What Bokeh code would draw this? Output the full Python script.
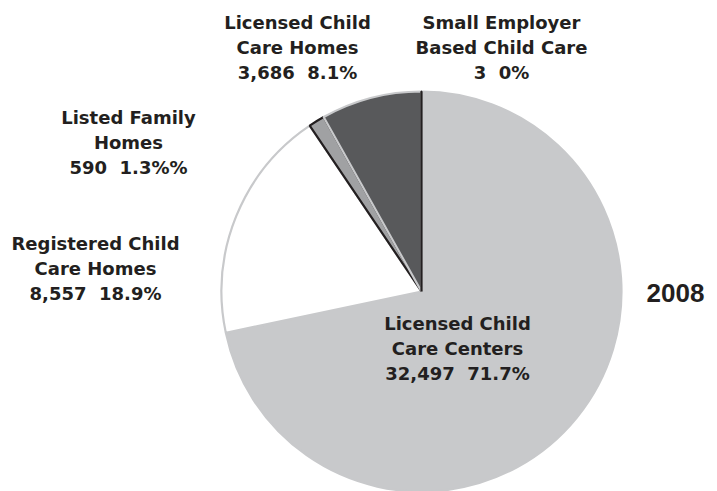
import numpy as np
from bokeh.plotting import figure
from bokeh.models import ColumnDataSource, Range1d
from bokeh.core.properties import value
from bokeh.embed import file_html
from bokeh.resources import INLINE

# ---- data ----
categories = ["Licensed Child\nCare Centers", "Registered Child\nCare Homes",
              "Listed Family\nHomes", "Licensed Child\nCare Homes",
              "Small Employer\nBased Child Care"]
counts = [32497, 8557, 590, 3686, 3]
pct_labels = ["71.7%", "18.9%", "1.3%%", "8.1%", "0%"]
year_label = "2008"

# ---- styles ----
fills = ["#c8c9cb", "#ffffff", "#a0a1a3", "#58595b", "#231f20"]
edges = ["#c8c9cb", "#c8c9cb", "#231f20", "#c8c9cb", "#231f20"]
TEXT = "#231f20"

W, H = 717, 491
CX, CY, R = 421, H - 291, 200

vals = np.array(counts, dtype=float)
frac = vals / vals.sum()
cum = np.concatenate([[0], np.cumsum(frac)])
start = np.pi / 2 - 2 * np.pi * cum[:-1]
end = np.pi / 2 - 2 * np.pi * cum[1:]

src = ColumnDataSource(dict(start=start, end=end, fill=fills, edge=edges))

p = figure(width=W, height=H, output_backend="svg", toolbar_location=None,
           x_range=Range1d(0, W), y_range=Range1d(0, H), min_border=0)
p.axis.visible = False
p.grid.visible = False
p.outline_line_color = None
p.background_fill_color = "white"
p.border_fill_color = "white"

p.wedge(x=CX, y=CY, radius=R, start_angle="start", end_angle="end",
        direction="clock", fill_color="fill", line_color="edge", line_width=2.2,
        source=src)

# label anchor positions (pixels from top-left) for each slice label block
label_pos = [(457, 348), (95, 268), (128, 142), (297, 47), (501, 47)]
NB = "\u00a0"
texts = [f"{c}\n{n:,}{NB}{NB}{pc}" for c, n, pc in zip(categories, counts, pct_labels)]
lx = [x for x, y in label_pos]
ly = [H - y for x, y in label_pos]
lsrc = ColumnDataSource(dict(x=lx, y=ly, t=texts))
p.text(x="x", y="y", text="t", source=lsrc, text_align="center",
       text_baseline="middle", text_font=value("DejaVu Sans"),
       text_font_style="bold", text_font_size="18px", text_color=TEXT,
       text_line_height=1.19)

p.text(x=[675], y=[H - 292], text=[year_label], text_align="center",
       text_baseline="middle", text_font=value("Liberation Sans"),
       text_font_style="bold", text_font_size="26px", text_color=TEXT)

open("out.html", "w").write(file_html(p, INLINE))
